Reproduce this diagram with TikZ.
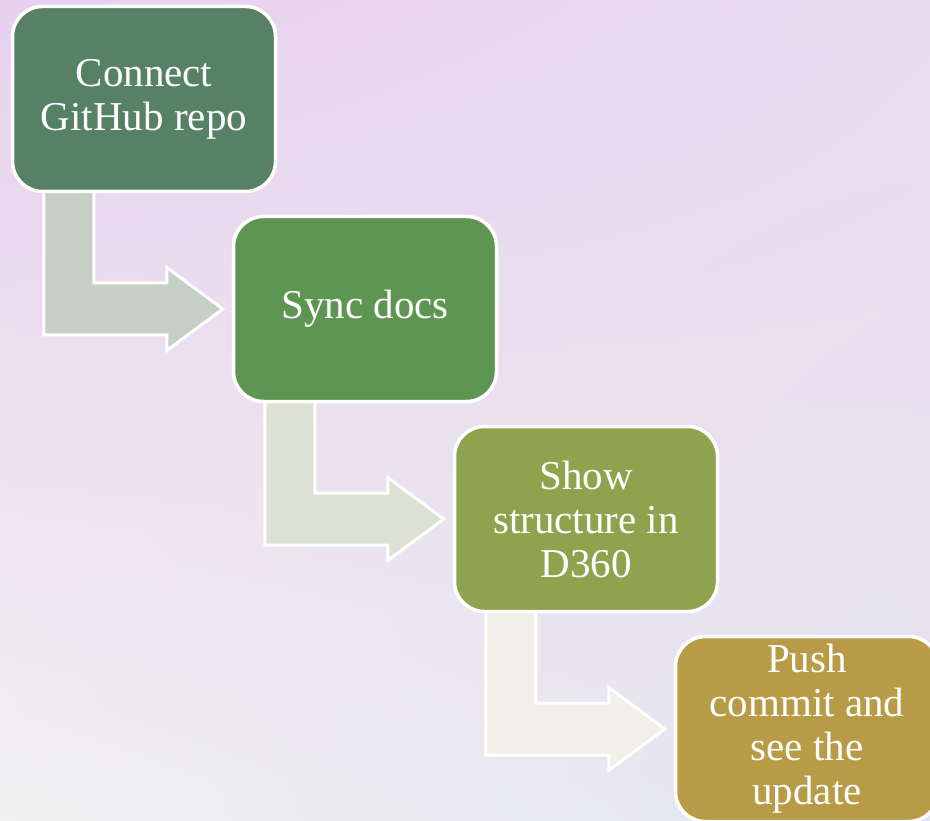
\documentclass[tikz,border=0pt]{standalone}
\usepackage{fontspec}
\setmainfont{Liberation Serif}
\newfontfamily\stagefont{Liberation Serif}
\usetikzlibrary{calc, shadings}
\definecolor{stageA}{HTML}{568165}
\definecolor{stageB}{HTML}{5F9553}
\definecolor{stageC}{HTML}{8DA34D}
\definecolor{stageD}{HTML}{B89B47}
\definecolor{flowA}{HTML}{C5CFC5}
\definecolor{flowB}{HTML}{DCE1D3}
\definecolor{flowC}{HTML}{F1EFE8}
\definecolor{bgTL}{HTML}{E8D0EE}
\definecolor{bgTR}{HTML}{EADCEF}
\definecolor{bgBL}{HTML}{F1F1F1}
\definecolor{bgBR}{HTML}{E3E3EF}
\pgfdeclarelayer{bg}
\pgfdeclarelayer{flow}
\pgfsetlayers{bg,flow,main}
\tikzset{
	stage/.style={rectangle, rounded corners=30pt, draw=white, line width=3.5pt, minimum width=263pt, minimum height=185pt, align=center, text=white, font=\stagefont\fontsize{41}{44}\selectfont},
	bend flow/.style={draw=white, line width=3pt, line join=miter}
}
% bent arrow from the bottom of #1 to the left side of #2
\newcommand{\bentflow}[3]{%
	\fill[#3, bend flow] let \p1=(#1.south west), \p2=(#2.west) in
		(\x1+33pt,\y1+8pt) -- (\x1+83pt,\y1+8pt) -- (\x1+83pt,\y2+26pt)
		-- (\x2-65pt,\y2+26pt) -- (\x2-65pt,\y2+41.5pt) -- (\x2-9pt,\y2)
		-- (\x2-65pt,\y2-41.5pt) -- (\x2-65pt,\y2-26pt) -- (\x1+33pt,\y2-26pt) -- cycle;
}
\begin{document}
\begin{tikzpicture}[x=1pt, y=1pt]
	
	% Background
	\useasboundingbox (0,0) rectangle (930,-821);
	\begin{pgfonlayer}{bg}
		\shade[upper left=bgTL, upper right=bgTR, lower left=bgBL, lower right=bgBR]
			(0,0) rectangle (930,-821);
	\end{pgfonlayer}
	
	% Stages
	\node[stage, fill=stageA] (Connect) at (144,-99) {Connect\\GitHub repo};
	\node[stage, fill=stageB] (Sync) at (365,-309) {Sync docs};
	\node[stage, fill=stageC] (Show) at (586,-519) {Show\\structure in\\D360};
	\node[stage, fill=stageD] (Push) at (807,-729) {Push\\commit and\\see the\\update};
	
	% Flow arrows, behind the stages
	\begin{pgfonlayer}{flow}
		\bentflow{Connect}{Sync}{flowA}
		\bentflow{Sync}{Show}{flowB}
		\bentflow{Show}{Push}{flowC}
	\end{pgfonlayer}
	
\end{tikzpicture}
\end{document}
